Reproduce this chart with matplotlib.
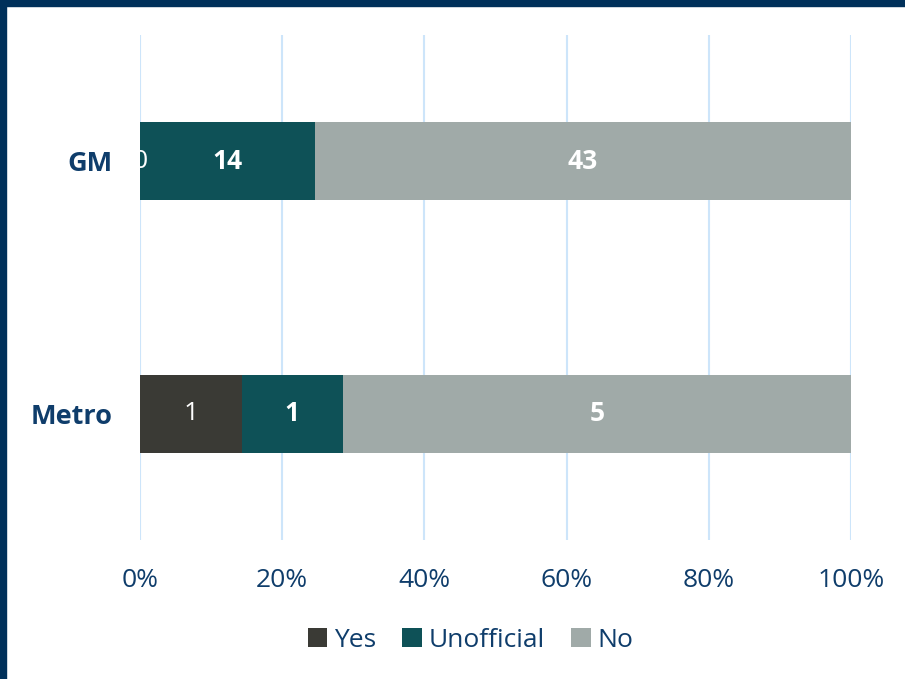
import numpy as np
import matplotlib
matplotlib.use('Agg')
from matplotlib import pyplot as plt
from matplotlib.patches import Rectangle

# chart data
categories = ['Metro', 'GM']
series = ['Yes', 'Unofficial', 'No']
yes = [1, 0]
unofficial = [1, 14]
no = [5, 43]
xticks = [0, 20, 40, 60, 80, 100]

colors = ['#3a3a35', '#0e5157', '#a0aaa8']
text_col = '#0f3d6b'
grid_col = '#cde5fa'

plt.rcParams['font.family'] = ['Open Sans', 'DejaVu Sans']

counts = np.array([yes, unofficial, no], dtype=float)
totals = counts.sum(axis=0)
pct = counts / totals * 100

fig = plt.figure(figsize=(9.05, 6.79), dpi=100)
ax = fig.add_axes([0.1547, 0.2047, 0.7856, 0.7438])

ypos = np.arange(len(categories))
left = np.zeros(len(categories))
for i, name in enumerate(series):
    ax.barh(ypos, pct[i], left=left, height=0.31, color=colors[i],
            label=name, zorder=3)
    for j in range(len(categories)):
        cx = left[j] + pct[i][j] / 2
        weight = 'normal' if i == 0 else 'bold'
        ax.text(cx, ypos[j], '%d' % counts[i][j], ha='center', va='center',
                color='white', fontsize=19, fontweight=weight, zorder=4)
    left = left + pct[i]

ax.set_xlim(0, 100)
ax.set_ylim(-0.5, 1.5)
ax.set_xticks(xticks)
ax.set_xticklabels(['%d%%' % t for t in xticks], fontsize=19, color=text_col)
ax.set_yticks(ypos)
ax.set_yticklabels(categories, fontsize=19.5, fontweight='bold', color=text_col)
ax.tick_params(axis='x', length=0, pad=20)
ax.tick_params(axis='y', length=0, pad=20)
ax.grid(axis='x', color=grid_col, linewidth=1.5, zorder=0)
for s in ax.spines.values():
    s.set_visible(False)

leg = fig.legend(loc='center', bbox_to_anchor=(0.52, 0.057), ncol=3,
                 frameon=False, fontsize=19, handlelength=0.75, handleheight=0.75,
                 handletextpad=0.25, columnspacing=1.0)
for t in leg.get_texts():
    t.set_color(text_col)

# dark frame on top and left
fig.patches.append(Rectangle((0, 0), 6 / 905, 1, transform=fig.transFigure,
                             color='#00305a', zorder=10))
fig.patches.append(Rectangle((0, 1 - 6 / 679), 1, 6 / 679, transform=fig.transFigure,
                             color='#00305a', zorder=10))

fig.savefig('out.png', dpi=100)
